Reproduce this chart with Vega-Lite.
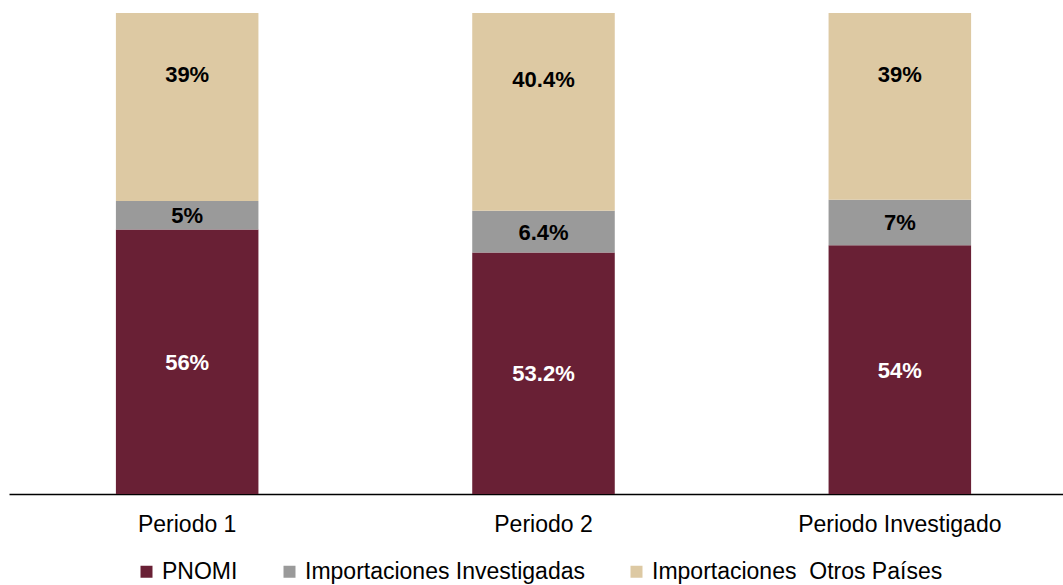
{
  "$schema": "https://vega.github.io/schema/vega-lite/v6.json",
  "width": 1069,
  "height": 481,
  "autosize": {"type": "none"},
  "padding": {"left": 9, "top": 13, "right": 0, "bottom": 91},
  "background": "white",
  "config": {
    "view": {"stroke": null},
    "font": "Liberation Sans",
    "axisX": {
      "title": null,
      "labelAngle": 0,
      "ticks": false,
      "tickSize": 0,
      "labelPadding": 19,
      "labelFontSize": 23,
      "labelLimit": 400,
      "labelColor": "#000000",
      "domainColor": "#000000",
      "domainWidth": 1.5,
      "grid": false
    }
  },
  "data": {
    "values": [
      {"period": "Periodo 1", "series": "PNOMI", "order": 1, "value": 55.0, "label": "56%"},
      {"period": "Periodo 1", "series": "Importaciones Investigadas", "order": 2, "value": 5.9, "label": "5%"},
      {"period": "Periodo 1", "series": "Importaciones\u00a0 Otros Países", "order": 3, "value": 52.8, "label": "39%"},
      {"period": "Periodo 2", "series": "PNOMI", "order": 1, "value": 50.2, "label": "53.2%"},
      {"period": "Periodo 2", "series": "Importaciones Investigadas", "order": 2, "value": 8.7, "label": "6.4%"},
      {"period": "Periodo 2", "series": "Importaciones\u00a0 Otros Países", "order": 3, "value": 54.6, "label": "40.4%"},
      {"period": "Periodo Investigado", "series": "PNOMI", "order": 1, "value": 51.7, "label": "54%"},
      {"period": "Periodo Investigado", "series": "Importaciones Investigadas", "order": 2, "value": 9.5, "label": "7%"},
      {"period": "Periodo Investigado", "series": "Importaciones\u00a0 Otros Países", "order": 3, "value": 52.2, "label": "39%"}
    ]
  },
  "transform": [
    {"stack": "value", "groupby": ["period"], "sort": [{"field": "order", "order": "ascending"}], "as": ["y0", "y1"]},
    {"calculate": "(datum.y0 + datum.y1) / 2", "as": "ymid"}
  ],
  "encoding": {
    "x": {
      "field": "period",
      "type": "nominal",
      "sort": ["Periodo 1", "Periodo 2", "Periodo Investigado"],
      "scale": {"paddingInner": 0.6, "paddingOuter": 0.3},
      "axis": {"title": null}
    }
  },
  "layer": [
    {
      "mark": {"type": "bar", "clip": true},
      "encoding": {
        "y": {"field": "y0", "type": "quantitative", "scale": {"domain": [0, 100]}, "axis": null},
        "y2": {"field": "y1"},
        "color": {
          "field": "series",
          "type": "nominal",
          "scale": {
            "domain": ["PNOMI", "Importaciones Investigadas", "Importaciones\u00a0 Otros Países"],
            "range": ["#692035", "#9A9A9A", "#DDC9A3"]
          },
          "legend": {
            "title": null,
            "orient": "none",
            "direction": "horizontal",
            "columns": 3,
            "legendX": 126,
            "legendY": 547,
            "padding": 0,
            "symbolType": "square",
            "symbolSize": 144,
            "symbolStrokeWidth": 0,
            "labelFontSize": 23,
            "labelColor": "#000000",
            "labelOffset": 4,
            "labelLimit": 400,
            "columnPadding": 40
          }
        }
      }
    },
    {
      "mark": {"type": "text", "fontWeight": "bold", "fontSize": 22, "baseline": "middle", "dy": 1},
      "encoding": {
        "y": {"field": "ymid", "type": "quantitative", "scale": {"domain": [0, 100]}, "axis": null},
        "text": {"field": "label"},
        "color": {
          "condition": {"test": "datum.series === 'PNOMI'", "value": "#FFFFFF"},
          "value": "#000000"
        }
      }
    }
  ]
}
